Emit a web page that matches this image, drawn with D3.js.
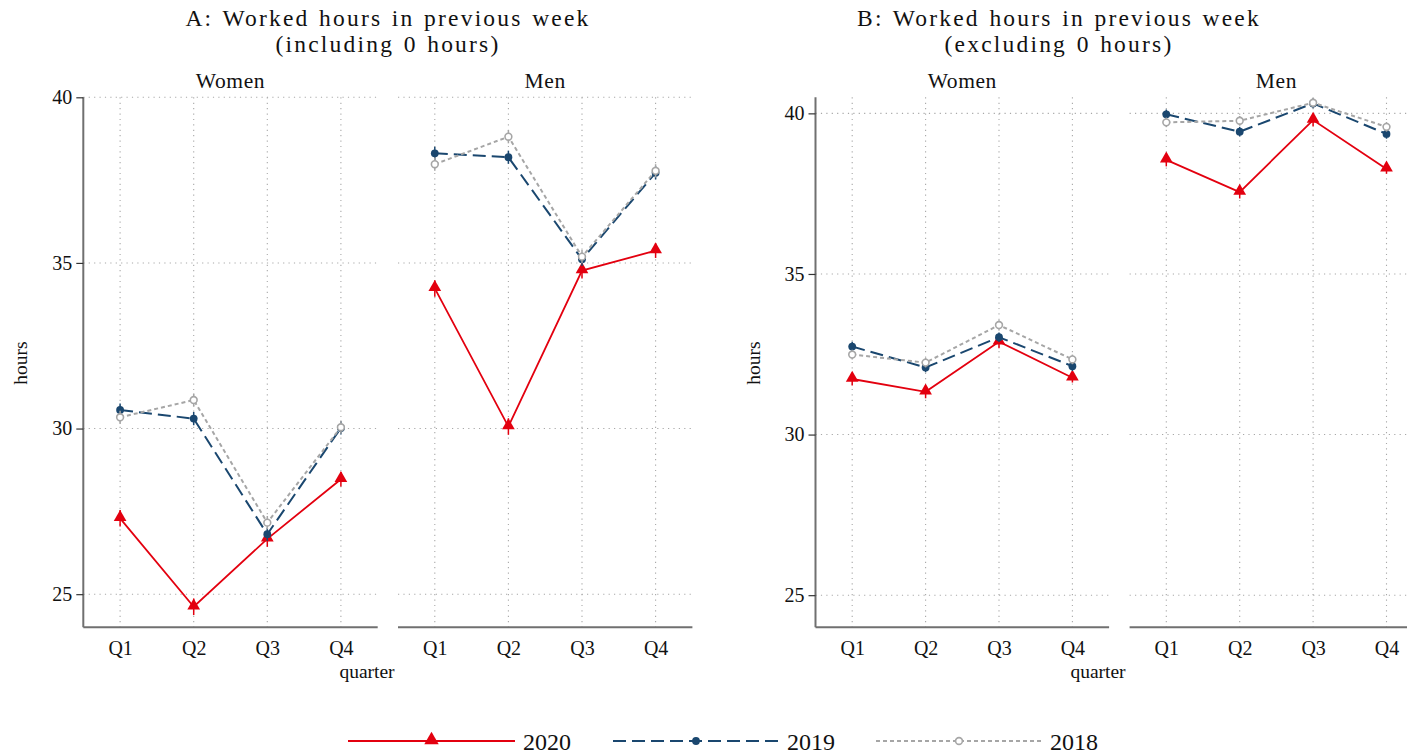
<!DOCTYPE html>
<html>
<head>
<meta charset="utf-8">
<script src="https://cdn.jsdelivr.net/npm/d3@7"></script>
<style>
  html, body { margin: 0; padding: 0; background: #fff; }
  svg { display: block; }
  text { font-family: "Liberation Serif", "Times New Roman", serif; fill: #111; }
</style>
</head>
<body>
<svg id="chart" width="1407" height="754"></svg>
<script>
// Quarters on the x axis and the years shown in the legend
const quarters = ["Q1", "Q2", "Q3", "Q4"];
const years = ["2020", "2019", "2018"];
const sexes = ["Women", "Men"];

// A: average worked hours, including 0 hours
const inclWomen2020 = [27.29, 24.62, 26.67, 28.47];
const inclWomen2019 = [30.56, 30.30, 26.81, 30.02];
const inclWomen2018 = [30.34, 30.86, 27.16, 30.04];
const inclMen2020 = [34.23, 30.06, 34.77, 35.37];
const inclMen2019 = [38.31, 38.19, 35.11, 37.72];
const inclMen2018 = [37.98, 38.81, 35.19, 37.78];

// B: average worked hours, excluding 0 hours
const exclWomen2020 = [31.73, 31.33, 32.89, 31.77];
const exclWomen2019 = [32.74, 32.09, 33.03, 32.13];
const exclWomen2018 = [32.49, 32.24, 33.41, 32.34];
const exclMen2020 = [38.55, 37.55, 39.79, 38.27];
const exclMen2019 = [39.97, 39.43, 40.31, 39.36];
const exclMen2018 = [39.72, 39.77, 40.33, 39.58];

// Half-widths of the confidence intervals
const inclCi2020 = [0.25, 0.25, 0.24, 0.22];
const inclCi2019 = [0.2, 0.2, 0.2, 0.2];
const inclCi2018 = [0.2, 0.2, 0.2, 0.2];
const exclCi2020 = [0.2, 0.2, 0.2, 0.15];
const exclCi2019 = [0.15, 0.15, 0.15, 0.15];
const exclCi2018 = [0.15, 0.15, 0.15, 0.15];

const yTicks = [25, 30, 35, 40];

const panels = [
  {
    title: ["A: Worked hours in previous week", "(including 0 hours)"],
    domain: [24, 40],
    left: 83.3, facetW: 294.4, gap: 20.3,
    series: {
      Women: { "2020": [inclWomen2020, inclCi2020], "2019": [inclWomen2019, inclCi2019], "2018": [inclWomen2018, inclCi2018] },
      Men:   { "2020": [inclMen2020, inclCi2020],   "2019": [inclMen2019, inclCi2019],   "2018": [inclMen2018, inclCi2018] }
    },
    titleX: 388, xLabelX: 367
  },
  {
    title: ["B: Worked hours in previous week", "(excluding 0 hours)"],
    domain: [24, 40.5],
    left: 815.5, facetW: 293.6, gap: 20.5,
    series: {
      Women: { "2020": [exclWomen2020, exclCi2020], "2019": [exclWomen2019, exclCi2019], "2018": [exclWomen2018, exclCi2018] },
      Men:   { "2020": [exclMen2020, exclCi2020],   "2019": [exclMen2019, exclCi2019],   "2018": [exclMen2018, exclCi2018] }
    },
    titleX: 1059, xLabelX: 1098
  }
];

const styles = {
  "2020": { color: "#e3000f", width: 1.8, dash: null, marker: "triangle" },
  "2019": { color: "#1a476f", width: 2.0, dash: "13 6", marker: "dot" },
  "2018": { color: "#a6a6a6", width: 2.0, dash: "4 3", marker: "ring" }
};

const plotTop = 97.3, plotBottom = 627.3;
const gridColor = "#a8a8a8";
const axisColor = "#707070";

const svg = d3.select("#chart");

function drawMarker(g, kind, color, x, y, size) {
  if (kind === "triangle") {
    g.append("path")
      .attr("d", d3.symbol(d3.symbolTriangle, size || 70)())
      .attr("transform", `translate(${x},${y - 1})`)
      .attr("fill", color);
  } else if (kind === "dot") {
    g.append("circle").attr("cx", x).attr("cy", y).attr("r", 3.9).attr("fill", color);
  } else {
    g.append("circle").attr("cx", x).attr("cy", y).attr("r", 3.4)
      .attr("fill", "#fff").attr("stroke", color).attr("stroke-width", 1.6);
  }
}

panels.forEach(p => {
  const y = d3.scaleLinear().domain(p.domain).range([plotBottom, plotTop]);

  // Panel title, two lines
  p.title.forEach((line, k) => {
    svg.append("text").attr("x", p.titleX).attr("y", 25.5 + k * 26)
      .attr("text-anchor", "middle").attr("font-size", 23.5)
      .attr("letter-spacing", 2.2).attr("word-spacing", 1.5).text(line);
  });

  sexes.forEach((sex, i) => {
    const x0 = p.left + i * (p.facetW + p.gap);
    const x = d3.scalePoint().domain(quarters).range([x0, x0 + p.facetW]).padding(0.5);
    const g = svg.append("g");

    // Facet label
    g.append("text").attr("x", x0 + p.facetW / 2).attr("y", 88)
      .attr("text-anchor", "middle").attr("font-size", 21.5).attr("letter-spacing", 0.6).text(sex);

    // Dotted grid
    g.selectAll(".hgrid").data(yTicks).join("line")
      .attr("x1", x0).attr("x2", x0 + p.facetW)
      .attr("y1", d => y(d)).attr("y2", d => y(d))
      .attr("stroke", gridColor).attr("stroke-width", 1.1).attr("stroke-dasharray", "1.2 4.2");
    g.selectAll(".vgrid").data(quarters).join("line")
      .attr("x1", d => x(d)).attr("x2", d => x(d))
      .attr("y1", plotTop).attr("y2", plotBottom)
      .attr("stroke", gridColor).attr("stroke-width", 1.1).attr("stroke-dasharray", "1.2 4.2");

    // Bottom axis
    const xAxis = g.append("g").attr("transform", `translate(0,${plotBottom})`)
      .call(d3.axisBottom(x).tickSize(0).tickPadding(14));
    xAxis.select(".domain").attr("d", `M${x0},0H${x0 + p.facetW}`)
      .attr("stroke", axisColor).attr("stroke-width", 2);
    xAxis.selectAll("text").attr("font-size", 20).attr("font-family", "Liberation Serif").attr("fill", "#111");

    // Left axis only on the first facet
    if (i === 0) {
      const yAxis = g.append("g").attr("transform", `translate(${x0},0)`)
        .call(d3.axisLeft(y).tickValues(yTicks).tickFormat(d3.format("d")).tickSize(7).tickPadding(4));
      yAxis.select(".domain").attr("d", `M0,${plotTop}V${plotBottom}`)
        .attr("stroke", axisColor).attr("stroke-width", 2);
      yAxis.selectAll(".tick line").attr("stroke", "#333").attr("stroke-width", 1.2);
      yAxis.selectAll("text").attr("font-size", 20).attr("font-family", "Liberation Serif").attr("fill", "#111");
    }

    // Series: 2020 first, later years drawn above
    years.forEach(yr => {
      const st = styles[yr];
      const [vals, ci] = p.series[sex][yr];
      const pts = quarters.map((q, k) => ({ q, v: vals[k], c: ci[k] }));
      const sg = g.append("g");
      sg.append("path").datum(pts)
        .attr("d", d3.line().x(d => x(d.q)).y(d => y(d.v)))
        .attr("fill", "none").attr("stroke", st.color).attr("stroke-width", st.width)
        .attr("stroke-dasharray", st.dash);
      sg.selectAll(".ci").data(pts).join("line")
        .attr("x1", d => x(d.q)).attr("x2", d => x(d.q))
        .attr("y1", d => y(d.v - d.c)).attr("y2", d => y(d.v + d.c))
        .attr("stroke", st.color).attr("stroke-width", 1.5);
      pts.forEach(d => drawMarker(sg, st.marker, st.color, x(d.q), y(d.v)));
    });
  });

  // Axis titles
  svg.append("text").attr("transform", `translate(${p.left - 56},363) rotate(-90)`)
    .attr("text-anchor", "middle").attr("font-size", 19.5).text("hours");
  svg.append("text").attr("x", p.xLabelX).attr("y", 678)
    .attr("text-anchor", "middle").attr("font-size", 19.5).text("quarter");
});

// Legend
const legendItems = [
  { year: "2020", x1: 348, x2: 515 },
  { year: "2019", x1: 613, x2: 779 },
  { year: "2018", x1: 876, x2: 1042 }
];
const lg = svg.append("g");
legendItems.forEach(it => {
  const st = styles[it.year];
  lg.append("line").attr("x1", it.x1).attr("x2", it.x2).attr("y1", 741).attr("y2", 741)
    .attr("stroke", st.color).attr("stroke-width", st.width).attr("stroke-dasharray", st.dash);
  drawMarker(lg, st.marker, st.color, (it.x1 + it.x2) / 2, 741, 90);
  lg.append("text").attr("x", it.x2 + 8).attr("y", 750).attr("font-size", 24).text(it.year);
});
</script>
</body>
</html>
